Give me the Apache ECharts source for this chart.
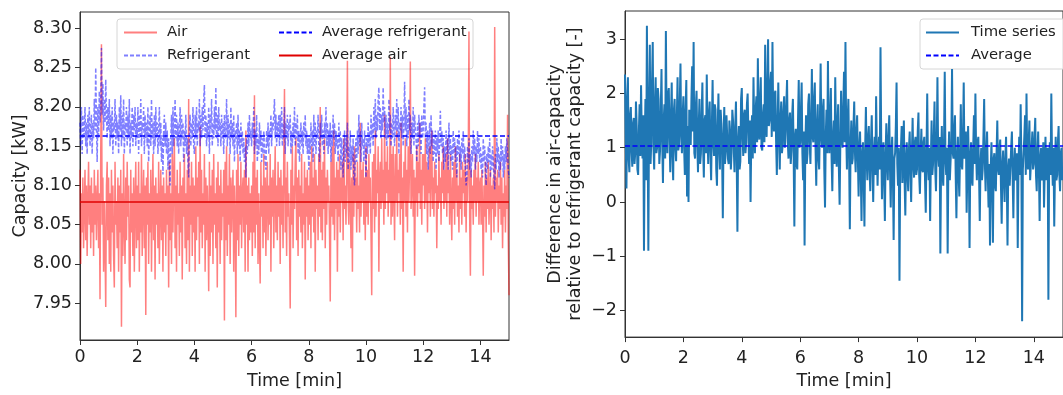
<!DOCTYPE html>
<html>
<head>
<meta charset="utf-8">
<script src="https://cdn.jsdelivr.net/npm/echarts@6/dist/echarts.min.js"></script>
<style>html,body{margin:0;padding:0;background:#fff}#c{width:1063px;height:395px}</style>
</head>
<body>
<div id="c"></div>
<script>
// sampling interval of the recorded series [min]
const sampleStepMin = 0.025;

const airCapacity = [
8.12,8.00,8.09,8.04,8.11,8.02,8.07,8.12,8.03,8.10, 8.01,8.08,8.13,8.05,8.10,8.02,8.11,8.04,8.09,8.01,
8.12,8.05,8.10,8.03,8.08,8.12,8.02,8.09,7.955,8.14, 8.28,8.05,8.11,7.99,8.08,8.02,7.945,8.10,8.13,8.03,
8.11,8.00,8.09,7.99,8.12,8.04,8.10,8.01,7.97,8.13, 8.05,8.08,8.02,8.11,7.99,8.10,8.04,8.12,7.92,8.09,
8.01,8.14,8.05,8.00,8.11,8.03,8.13,8.06,8.10,7.98, 7.97,8.12,8.04,8.09,8.01,8.11,7.99,8.08,8.13,8.02,
8.10,8.03,8.13,7.99,8.09,8.04,8.14,8.01,8.08,8.12, 8.02,8.10,7.935,8.11,8.05,8.13,8.00,8.09,8.04,8.12,
7.99,8.08,8.14,8.03,8.10,7.98,8.11,8.05,8.09,8.02, 8.13,8.00,8.07,8.12,8.03,8.10,7.99,8.11,8.04,8.09,
8.01,8.12,8.05,8.10,7.97,8.13,8.03,8.09,8.00,8.14, 8.04,8.11,8.16,8.02,8.10,7.99,8.12,8.05,8.09,8.01,
8.13,8.04,8.10,7.98,8.11,8.06,8.14,8.02,8.09,8.00, 8.12,8.03,8.21,7.99,8.10,8.05,8.13,8.01,8.11,8.04,
8.10,7.99,8.15,8.03,8.11,8.06,8.13,8.00,8.175,8.04, 8.12,8.02,8.09,8.05,8.14,7.99,8.11,8.03,8.10,8.06,
7.965,8.13,8.01,8.10,8.04,8.12,8.00,8.14,8.05,8.09, 8.02,8.11,7.97,8.13,8.04,8.10,8.00,8.12,8.03,8.09,
8.06,8.12,7.928,8.13,8.03,8.15,8.01,8.10,8.05,8.14, 8.00,8.11,8.04,8.09,8.12,7.99,8.10,8.06,7.932,8.12,
8.03,8.14,8.01,8.10,8.05,8.13,8.02,8.09,8.11,8.04, 8.12,7.99,8.17,8.05,8.10,7.99,8.11,8.03,8.09,8.04,
8.10,8.01,8.13,8.04,8.215,8.02,8.11,8.05,8.12,8.00, 8.09,8.03,7.975,8.13,8.06,8.10,8.02,8.14,8.04,8.11,
8.01,8.09,8.13,8.03,8.10,8.05,8.14,7.99,8.11,8.06, 8.12,8.02,8.09,8.15,8.04,8.10,8.03,8.13,8.06,8.11,
8.00,8.12,8.05,8.10,8.02,8.14,8.223,8.04,8.11,8.01, 8.13,8.06,8.09,8.03,7.943,8.12,8.05,8.15,8.02,8.10,
8.07,8.13,8.16,8.03,8.11,8.01,8.12,8.06,8.10,8.04, 8.14,8.02,8.09,8.05,8.13,7.98,8.11,8.06,8.12,8.03,
8.10,8.05,8.13,8.02,8.15,8.06,8.11,8.04,8.14,7.99, 8.12,8.07,8.10,8.03,8.14,8.06,8.20,8.04,8.12,8.03,
8.13,8.07,8.16,8.02,8.11,8.05,8.12,8.08,8.10,8.04, 7.952,8.13,8.06,8.15,8.05,8.17,8.03,8.11,8.07,8.13,
7.99,8.12,8.06,8.14,8.04,8.11,8.08,8.13,8.03,8.16, 8.07,8.10,8.05,8.12,8.259,8.08,8.05,8.13,8.09,8.02,
8.11,7.99,8.14,8.06,8.15,8.08,8.11,8.04,8.13,8.07, 8.10,8.04,8.18,8.06,8.12,8.08,8.13,8.05,8.11,8.03,
8.15,8.06,8.12,8.05,8.14,8.08,8.11,8.04,7.96,8.13, 8.07,8.14,8.04,8.17,8.06,8.12,8.09,8.15,7.99,8.11,
8.13,8.07,8.16,8.08,8.12,8.05,8.19,8.07,8.13,8.09, 8.15,8.06,8.12,8.08,8.264,8.05,8.14,8.06,8.15,8.09,
8.03,8.14,8.08,8.17,8.06,8.12,8.09,8.14,8.05,8.18, 8.07,8.11,7.99,8.13,8.08,8.16,8.06,8.12,8.04,8.15,
8.08,8.13,8.258,8.07,8.10,8.14,8.06,8.12,7.985,8.11, 8.08,8.15,8.06,8.13,8.09,8.18,8.07,8.12,8.05,8.14,
8.10,8.14,8.07,8.16,8.08,8.13,8.04,8.12,8.09,8.15, 8.06,8.12,8.17,8.07,8.11,8.06,8.13,8.09,8.12,8.02,
8.10,8.07,8.14,8.08,8.11,8.05,8.13,8.09,8.15,8.07, 8.12,8.08,8.14,8.06,8.16,8.09,8.12,8.05,8.14,8.08,
8.03,8.11,8.07,8.13,8.05,8.15,8.08,8.12,8.06,8.10, 8.04,8.14,8.07,8.11,8.05,8.13,8.09,8.12,8.06,8.14,
8.04,8.11,8.08,8.13,8.296,8.06,7.985,8.12,8.07,8.10, 8.05,8.12,8.08,8.14,8.06,8.11,8.08,8.13,8.05,8.10,
8.11,8.05,8.12,8.07,7.985,8.10,8.06,8.13,8.04,8.11, 8.07,8.13,8.05,8.09,8.12,8.03,8.10,8.07,8.11,8.04,
8.302,8.06,8.11,8.08,8.12,8.04,8.10,8.07,8.13,8.05, 8.11,8.02,8.09,8.06,8.12,8.04,8.10,8.07,8.19,8.03,7.96
];

const refrigerantCapacity = [
8.18,8.15,8.20,8.14,8.19,8.16,8.17,8.20,8.15,8.18, 8.14,8.19,8.16,8.20,8.15,8.17,8.19,8.14,8.18,8.16,
8.21,8.17,8.25,8.18,8.13,8.20,8.16,8.22,8.18,8.21, 8.275,8.19,8.23,8.17,8.21,8.18,8.235,8.19,8.16,8.20,
8.17,8.21,8.15,8.19,8.16,8.20,8.14,8.18,8.17,8.21, 8.15,8.19,8.16,8.18,8.14,8.20,8.17,8.215,8.15,8.19,
8.16,8.21,8.14,8.18,8.17,8.20,8.15,8.19,8.16,8.21, 8.14,8.18,8.16,8.20,8.15,8.19,8.17,8.20,8.15,8.18,
8.16,8.20,8.14,8.19,8.16,8.21,8.15,8.18,8.17,8.20, 8.14,8.19,8.16,8.18,8.15,8.20,8.13,8.17,8.19,8.15,
8.21,8.16,8.18,8.14,8.19,8.15,8.20,8.16,8.18,8.14, 8.17,8.20,8.15,8.18,8.13,8.16,8.114,8.17,8.19,8.15,
8.18,8.14,8.17,8.12,8.16,8.13,8.10,8.16,8.19,8.14, 8.20,8.15,8.18,8.21,8.16,8.19,8.15,8.18,8.14,8.17,
8.20,8.15,8.19,8.16,8.18,8.13,8.17,8.15,8.19,8.14, 8.16,8.13,8.11,8.17,8.19,8.15,8.18,8.16,8.20,8.15,
8.14,8.19,8.16,8.20,8.15,8.18,8.17,8.21,8.15,8.19, 8.16,8.20,8.17,8.21,8.228,8.16,8.19,8.15,8.18,8.16,
8.20,8.14,8.19,8.17,8.21,8.15,8.18,8.16,8.20,8.17, 8.225,8.16,8.19,8.15,8.20,8.17,8.18,8.15,8.19,8.16,
8.18,8.14,8.19,8.16,8.17,8.21,8.15,8.19,8.16,8.18, 8.14,8.20,8.16,8.18,8.15,8.19,8.13,8.17,8.16,8.18,
8.14,8.19,8.15,8.17,8.13,8.18,8.15,8.17,8.14,8.16, 8.13,8.15,8.11,8.16,8.14,8.18,8.15,8.19,8.16,8.17,
8.15,8.18,8.16,8.20,8.14,8.17,8.15,8.19,8.13,8.16, 8.14,8.18,8.15,8.17,8.13,8.16,8.14,8.17,8.15,8.13,
8.12,8.17,8.15,8.18,8.14,8.17,8.16,8.19,8.15,8.18, 8.17,8.19,8.21,8.16,8.19,8.15,8.18,8.16,8.19,8.15,
8.19,8.16,8.20,8.15,8.18,8.16,8.20,8.14,8.18,8.16, 8.19,8.15,8.18,8.17,8.19,8.14,8.17,8.15,8.18,8.16,
8.20,8.15,8.18,8.16,8.19,8.14,8.17,8.13,8.16,8.18, 8.15,8.17,8.14,8.18,8.16,8.19,8.15,8.17,8.14,8.16,
8.12,8.16,8.14,8.18,8.15,8.17,8.13,8.19,8.15,8.18, 8.14,8.17,8.16,8.19,8.15,8.13,8.18,8.16,8.19,8.15,
8.17,8.14,8.18,8.16,8.20,8.15,8.18,8.14,8.17,8.15, 8.18,8.13,8.17,8.15,8.19,8.16,8.18,8.14,8.17,8.15,
8.16,8.13,8.18,8.15,8.17,8.12,8.16,8.14,8.11,8.15, 8.17,8.13,8.16,8.14,8.18,8.12,8.15,8.13,8.17,8.12,
8.15,8.13,8.16,8.11,8.10,8.14,8.16,8.13,8.17,8.14, 8.19,8.15,8.17,8.13,8.18,8.15,8.16,8.13,8.17,8.14,
8.11,8.16,8.14,8.18,8.15,8.17,8.14,8.19,8.16,8.18, 8.15,8.20,8.17,8.21,8.16,8.19,8.17,8.21,8.225,8.17,
8.20,8.16,8.19,8.17,8.225,8.18,8.20,8.16,8.19,8.15, 8.18,8.16,8.21,8.17,8.19,8.15,8.18,8.16,8.20,8.17,
8.15,8.19,8.17,8.21,8.16,8.20,8.14,8.18,8.17,8.20, 8.16,8.19,8.15,8.18,8.232,8.17,8.20,8.15,8.19,8.16,
8.21,8.17,8.19,8.14,8.18,8.16,8.20,8.15,8.19,8.17, 8.16,8.13,8.18,8.15,8.19,8.16,8.18,8.14,8.19,8.16,
8.17,8.20,8.225,8.16,8.18,8.14,8.17,8.12,8.16,8.18, 8.14,8.19,8.15,8.17,8.13,8.16,8.14,8.17,8.12,8.16,
8.14,8.17,8.13,8.16,8.195,8.15,8.17,8.14,8.16,8.12, 8.15,8.13,8.17,8.14,8.16,8.12,8.18,8.14,8.16,8.13,
8.15,8.12,8.17,8.14,8.16,8.13,8.15,8.11,8.16,8.14, 8.17,8.13,8.15,8.12,8.16,8.14,8.17,8.13,8.15,8.12,
8.10,8.11,8.15,8.13,8.16,8.12,8.14,8.11,8.15,8.13, 8.17,8.14,8.16,8.12,8.15,8.13,8.17,8.14,8.16,8.13,
8.15,8.12,8.14,8.11,8.16,8.13,8.15,8.12,8.10,8.14, 8.12,8.15,8.13,8.16,8.11,8.14,8.12,8.15,8.13,8.11,
8.095,8.14,8.12,8.16,8.13,8.15,8.11,8.14,8.12,8.16, 8.13,8.15,8.11,8.14,8.12,8.15,8.13,8.16,8.14,8.12,8.11
];

const capacityDifference = [
2.35,1.20,0.25,1.90,2.30,0.80,0.55,1.60,1.75,0.95, 0.65,1.45,1.55,0.70,0.90,1.85,1.40,0.60,0.50,1.30,
1.80,0.85,2.15,1.20,0.80,1.60,-0.90,1.10,1.90,0.40, 3.25,1.30,-0.90,1.70,2.90,0.70,1.10,2.20,2.95,1.00,
0.60,1.80,2.30,0.90,1.00,2.10,1.90,0.70,0.95,1.70, 2.45,1.10,0.35,1.50,1.80,0.80,3.15,1.40,0.90,2.00,
2.10,1.20,0.55,1.60,2.20,0.85,0.40,1.70,1.90,1.00, 0.75,1.55,2.30,0.95,1.05,1.80,2.55,1.20,0.90,1.60,
1.95,1.00,0.50,1.70,2.25,0.10,1.40,0.00,1.70,1.20, 1.05,1.90,2.50,1.30,2.95,0.90,0.80,1.75,2.05,1.10,
0.55,1.40,1.90,0.70,0.90,1.60,2.20,1.00,0.45,1.50, 1.60,0.90,2.35,1.30,0.70,1.60,1.85,0.95,0.40,1.40,
2.25,1.10,0.85,1.80,1.70,0.60,0.30,1.40,2.00,1.00, 0.60,1.70,1.45,0.90,-0.30,1.20,1.75,0.70,0.95,1.60,
1.60,0.80,0.70,1.50,1.30,0.60,0.90,1.70,1.50,1.00, 0.55,1.40,1.85,0.80,-0.55,1.10,1.40,0.60,0.75,1.90,
2.10,1.20,0.85,1.60,1.70,0.90,1.10,1.80,2.00,1.30, 0.70,1.50,0.00,1.20,1.60,0.80,2.30,1.40,0.90,1.70,
1.95,1.10,2.65,1.40,1.15,1.90,2.30,1.00,0.95,1.60, 1.80,1.10,2.90,1.50,1.20,2.10,3.00,1.40,1.50,2.20,
2.40,1.20,2.95,1.60,1.30,2.00,2.05,1.10,0.50,1.40, 2.20,1.30,0.60,1.50,1.85,0.90,1.05,1.70,1.95,1.00,
1.30,1.80,2.25,1.10,0.80,1.50,1.65,0.70,0.95,1.60, 1.90,0.90,-0.45,1.20,1.35,0.70,0.60,1.50,2.25,1.00,
1.10,1.70,2.20,0.90,0.40,1.30,-0.80,1.00,1.60,0.70, 0.90,1.80,2.00,1.10,0.70,1.50,2.45,1.20,1.10,1.90,
2.20,1.00,0.30,1.40,1.80,0.80,0.60,1.50,2.55,1.20, 1.00,1.70,1.90,0.60,-0.10,1.20,1.70,0.90,2.60,1.30,
0.90,1.60,2.10,0.80,0.20,1.20,1.50,0.70,2.30,1.30, 0.65,1.40,1.80,0.60,-0.05,1.10,2.05,1.20,1.00,1.70,
2.40,1.10,2.95,1.30,0.60,1.50,1.90,0.80,-0.50,1.00, 1.50,0.70,0.80,1.40,1.85,0.90,0.55,1.30,1.60,0.80,
0.10,1.00,1.30,0.50,-0.35,0.90,1.10,0.40,-0.45,1.00, 1.75,0.80,0.40,1.20,1.40,0.60,0.20,1.10,1.60,0.70,
0.00,0.90,1.20,0.50,1.95,1.00,0.30,0.90,1.20,0.60, 2.85,1.10,0.05,0.80,1.10,0.40,-0.35,0.90,1.45,0.70,
0.40,1.20,1.60,0.60,-0.10,0.90,1.20,0.50,-0.70,0.80, 0.90,1.40,2.20,0.70,0.30,1.00,-1.45,0.60,1.00,1.40,
0.35,0.90,1.50,0.40,-0.25,0.80,1.10,0.50,0.20,1.00, 1.30,0.60,0.00,0.90,1.55,0.70,0.45,1.10,1.20,0.50,
0.60,1.30,1.65,0.50,0.15,0.90,1.35,0.60,0.55,1.10, 1.20,0.40,-0.20,0.90,2.00,0.70,0.40,1.00,-0.35,0.80,
1.50,0.50,0.70,1.20,1.85,0.60,0.20,1.00,2.30,0.90, 0.65,1.20,-0.95,0.70,1.40,0.50,0.30,1.10,2.40,0.80,
0.50,1.00,-0.95,0.70,1.30,0.40,0.40,1.10,2.45,0.90, 0.80,1.30,1.60,0.50,-0.30,0.80,1.20,0.50,0.10,0.90,
1.80,0.70,0.60,1.20,2.20,0.80,0.90,1.30,-0.20,0.60, 1.40,0.70,-0.85,0.80,1.10,0.40,0.30,1.00,1.60,0.70,
2.00,0.90,0.40,1.10,1.20,0.50,-0.35,0.70,1.00,0.40, 0.60,1.20,1.90,0.70,0.20,0.90,1.30,0.50,-0.10,0.70,
-0.80,0.60,1.10,0.40,-0.75,0.80,0.90,0.30,0.20,0.90, 1.50,0.60,0.50,1.00,1.15,0.30,-0.40,0.70,0.95,0.40,
0.00,0.80,1.20,0.40,-0.80,0.60,0.80,0.30,0.30,1.00, 1.30,0.50,-0.30,0.70,1.00,0.40,0.50,0.90,-0.85,0.60,
1.20,0.50,1.80,0.70,-2.20,0.60,0.90,1.20,1.60,0.50, 2.00,0.80,0.60,1.10,1.50,0.40,0.40,1.00,1.30,0.60,
0.70,1.20,1.55,0.50,0.20,0.90,1.30,0.60,-0.35,0.80, 1.00,0.40,0.50,1.10,-0.10,0.60,1.20,0.40,0.60,1.00,
-1.80,0.70,1.10,0.50,2.00,0.80,0.30,1.00,-0.45,0.60, 1.20,0.40,0.50,1.10,1.40,0.50,0.20,0.90,1.00,0.40,0.60
];

const avgAir = 8.079;
const avgRefrigerant = 8.163;
const avgDifference = 1.03;

const xTicks = [0, 2, 4, 6, 8, 10, 12, 14];
const capacityTicks = [7.95, 8.00, 8.05, 8.10, 8.15, 8.20, 8.25, 8.30];
const differenceTicks = [-2, -1, 0, 1, 2, 3];

const toXY = arr => arr.map((v, i) => [+(i * sampleStepMin).toFixed(4), v]);
const flat = (v) => [[0, v], [15, v]];

const FONT = 'DejaVu Sans';
const TXT = '#222';
const AX = '#333';

function xAxis(gridIndex, nameGap, margin) {
  return {
    type: 'value', gridIndex, min: 0, max: 15,
    name: 'Time [min]', nameLocation: 'middle', nameGap,
    nameTextStyle: {fontFamily: FONT, fontSize: 17.5, color: TXT},
    axisLine: {show: true, onZero: false, lineStyle: {color: AX, width: 1}},
    axisTick: {show: true, inside: false, length: 5, lineStyle: {color: AX}, customValues: xTicks},
    axisLabel: {fontFamily: FONT, fontSize: 17.5, color: TXT, margin, customValues: xTicks},
    splitLine: {show: false}
  };
}

const chart = echarts.init(document.getElementById('c'), null, {renderer: 'canvas'});
const legendBase = {
  orient: 'vertical', itemWidth: 33, itemHeight: 14, itemGap: 8, top: 20,
  selectedMode: false, padding: 5,
  itemStyle: {opacity: 0},
  textStyle: {fontFamily: FONT, fontSize: 14.8, color: TXT, lineHeight: 14, padding: [0, 0, 0, 5]}
};

chart.setOption({
  animation: false,
  backgroundColor: '#fff',
  grid: [
    {left: 80, top: 12, width: 429, height: 332, show: true, borderColor: AX, borderWidth: 1, backgroundColor: 'transparent'},
    {left: 625, top: 11, width: 442, height: 339.5, show: true, borderColor: AX, borderWidth: 1, backgroundColor: 'transparent'}
  ],
  xAxis: [xAxis(0, 32, 8), xAxis(1, 30, 12)],
  yAxis: [
    {
      type: 'value', gridIndex: 0, min: 7.903, max: 8.321,
      name: 'Capacity [kW]', nameLocation: 'middle', nameGap: 50,
      nameTextStyle: {fontFamily: FONT, fontSize: 17.5, color: TXT},
      axisLine: {show: true, onZero: false, lineStyle: {color: AX}},
      axisTick: {show: true, length: 5, lineStyle: {color: AX}, customValues: capacityTicks},
      axisLabel: {fontFamily: FONT, fontSize: 17.5, color: TXT, margin: 8, customValues: capacityTicks,
        formatter: v => v.toFixed(2)},
      splitLine: {show: false}
    },
    {
      type: 'value', gridIndex: 1, min: -2.49, max: 3.52,
      name: 'Difference in air-capacity\nrelative to refrigerant capacity [-]',
      nameLocation: 'middle', nameGap: 40,
      nameTextStyle: {fontFamily: FONT, fontSize: 17.5, color: TXT, lineHeight: 20, align: 'center'},
      axisLine: {show: true, onZero: false, lineStyle: {color: AX}},
      axisTick: {show: true, length: 5, lineStyle: {color: AX}, customValues: differenceTicks},
      axisLabel: {fontFamily: FONT, fontSize: 17.5, color: TXT, margin: 8, customValues: differenceTicks,
        formatter: v => (v < 0 ? '\u2212' + Math.abs(v) : String(v))},
      splitLine: {show: false}
    }
  ],
  legend: [
    Object.assign({}, legendBase, {left: 118, data: ['Air', 'Refrigerant']}),
    Object.assign({}, legendBase, {left: 273, data: ['Average refrigerant', 'Average air']}),
    Object.assign({}, legendBase, {left: 920, data: ['Time series', 'Average'],
      textStyle: Object.assign({}, legendBase.textStyle, {padding: [0, 0, 0, 7]})})
  ],
  graphic: [
    {type: 'rect', z: 3, shape: {x: 117, y: 19, width: 356, height: 50, r: 3},
      style: {fill: 'rgba(255,255,255,0.8)', stroke: '#d6d6d6', lineWidth: 1}},
    {type: 'rect', z: 3, shape: {x: 920, y: 19, width: 170, height: 50, r: 3},
      style: {fill: 'rgba(255,255,255,0.8)', stroke: '#d6d6d6', lineWidth: 1}}
  ],
  series: [
    {name: 'Air', type: 'line', xAxisIndex: 0, yAxisIndex: 0, data: toXY(airCapacity), symbol: 'none',
      lineStyle: {color: '#ff0000', width: 1.5, opacity: 0.5}, itemStyle: {color: '#ff0000'}},
    {name: 'Refrigerant', type: 'line', xAxisIndex: 0, yAxisIndex: 0, data: toXY(refrigerantCapacity), symbol: 'none',
      lineStyle: {color: '#0000ff', width: 1.5, opacity: 0.5, type: [4, 2]}, itemStyle: {color: '#0000ff'}},
    {name: 'Average refrigerant', type: 'line', xAxisIndex: 0, yAxisIndex: 0, data: flat(avgRefrigerant), symbol: 'none',
      lineStyle: {color: '#0000ff', width: 1.5, type: [5, 2.5]}, itemStyle: {color: '#0000ff'}},
    {name: 'Average air', type: 'line', xAxisIndex: 0, yAxisIndex: 0, data: flat(avgAir), symbol: 'none',
      lineStyle: {color: '#e00000', width: 1.5}, itemStyle: {color: '#e00000'}},
    {name: 'Time series', type: 'line', xAxisIndex: 1, yAxisIndex: 1, data: toXY(capacityDifference), symbol: 'none',
      lineStyle: {color: '#1f77b4', width: 2}, itemStyle: {color: '#1f77b4'}},
    {name: 'Average', type: 'line', xAxisIndex: 1, yAxisIndex: 1, data: flat(avgDifference), symbol: 'none',
      lineStyle: {color: '#0000ff', width: 1.5, type: [5, 2.5]}, itemStyle: {color: '#0000ff'}}
  ]
});
</script>
</body>
</html>
